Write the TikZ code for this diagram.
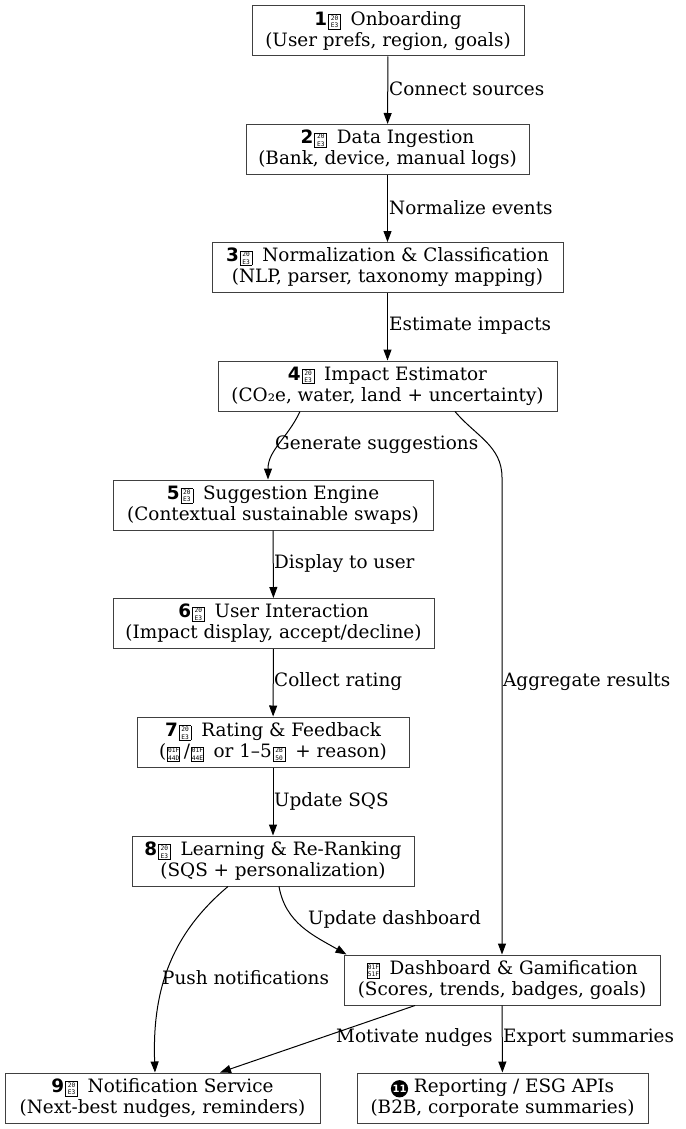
\documentclass[tikz,border=0pt]{standalone}
\usepackage{fontspec}
\setmainfont{DejaVu Serif}
\newfontfamily\symfont{DejaVu Sans}
\newfontfamily\hexfont{DejaVu Sans Mono}
\usetikzlibrary{arrows.meta,calc}
\newcommand\tofu[2]{\hspace{1pt}\raisebox{-2.5pt}{\setlength\fboxsep{0.6pt}\setlength\fboxrule{0.7pt}\fbox{\hexfont\fontsize{6.2}{7}\selectfont\shortstack{\makebox[10pt]{#1}\\\makebox[10pt]{#2}}}}\hspace{4pt}}
\newcommand\kc[1]{{\symfont\bfseries #1}\tofu{20}{E3}}
\newcommand\negeleven{\tikz[baseline=(c.base)]\node[circle,fill=black,text=white,inner sep=0.6pt,minimum size=15pt,font=\symfont\bfseries\fontsize{10}{10}\selectfont] (c) {11};}
\tikzset{
  box/.style={draw=black!75, line width=1pt, fill=white, rectangle, inner xsep=6pt, minimum height=50pt, align=center, font=\fontsize{18.4}{21}\selectfont},
  lbl/.style={anchor=west, inner sep=0pt, font=\fontsize{18.4}{21}\selectfont},
  arr/.style={-{Triangle[length=11pt,width=8pt]}, line width=1pt}
}
\begin{document}
\begin{tikzpicture}[x=1pt,y=-1pt]
\useasboundingbox (0,0) rectangle (685,1129);
\node[box, minimum width=272pt] (n1) at (388,31) {\kc{1} Onboarding\\(User prefs, region, goals)};
\node[box, minimum width=283pt] (n2) at (387.5,149.5) {\kc{2} Data Ingestion\\(Bank, device, manual logs)};
\node[box, minimum width=351pt] (n3) at (387.5,267.5) {\kc{3} Normalization \& Classification\\(NLP, parser, taxonomy mapping)};
\node[box, minimum width=339pt] (n4) at (387.5,386) {\kc{4} Impact Estimator\\(CO₂e, water, land + uncertainty)};
\node[box, minimum width=320pt] (n5) at (273,505) {\kc{5} Suggestion Engine\\(Contextual sustainable swaps)};
\node[box, minimum width=321pt] (n6) at (273.5,623.5) {\kc{6} User Interaction\\(Impact display, accept/decline)};
\node[box, minimum width=272pt] (n7) at (273,742) {\kc{7} Rating \& Feedback\\(\tofu{01F}{44D}/\tofu{01F}{44E} or 1–5\tofu{2B}{50} + reason)};
\node[box, minimum width=282pt] (n8) at (273,861) {\kc{8} Learning \& Re-Ranking\\(SQS + personalization)};
\node[box, minimum width=316pt] (dash) at (502,980) {\tofu{01F}{51F} Dashboard \& Gamification\\(Scores, trends, badges, goals)};
\node[box, minimum width=315pt] (n9) at (162.5,1098) {\kc{9} Notification Service\\(Next-best nudges, reminders)};
\node[box, minimum width=291pt] (rep) at (502.5,1098) {\negeleven{} Reporting / ESG APIs\\(B2B, corporate summaries)};

\draw[arr] (n1) -- (n2);
\draw[arr] (n2) -- (n3);
\draw[arr] (n3) -- (n4);
\draw[arr] ($(n4.south)+(-87.5,0)$) to[out=-115,in=90] ($(n5.north)+(-5,0)$);
\draw[arr] ($(n4.south)+(67.5,0)$) to[out=-50,in=90] ($(dash.north)+(0,-477)$) -- (dash.north);
\draw[arr] (n5) -- (n6);
\draw[arr] (n6) -- (n7);
\draw[arr] (n7) -- (n8);
\draw[arr] ($(n8.south)+(6,0)$) to[out=-80,in=150] ($(dash.north west)+(3,0)$);
\draw[arr] ($(n8.south)+(-45,0)$) to[out=-140,in=92] ($(n9.north)+(-7.5,0)$);
\draw[arr] ($(dash.south)+(-87,0)$) -- ($(n9.north)+(57.5,0)$);
\draw[arr] (dash) -- (rep);

\node[lbl] (l1) at (389,89) {Connect sources};
\node[lbl] (l2) at (389,208) {Normalize events};
\node[lbl] (l3) at (389,326) {Estimate impacts};
\node[lbl] (l4) at (275,445) {Generate suggestions};
\node[lbl] (l5) at (503,682) {Aggregate results};
\node[lbl] (l6) at (274,564) {Display to user};
\node[lbl] (l7) at (274,682) {Collect rating};
\node[lbl] (l8) at (274,801) {Update SQS};
\node[lbl] (l9) at (308,919) {Update dashboard};
\node[lbl] (l10) at (162,978) {Push notifications};
\node[lbl] (l11) at (336,1038) {Motivate nudges};
\node[lbl] (l12) at (503,1038) {Export summaries};
\end{tikzpicture}
\end{document}
